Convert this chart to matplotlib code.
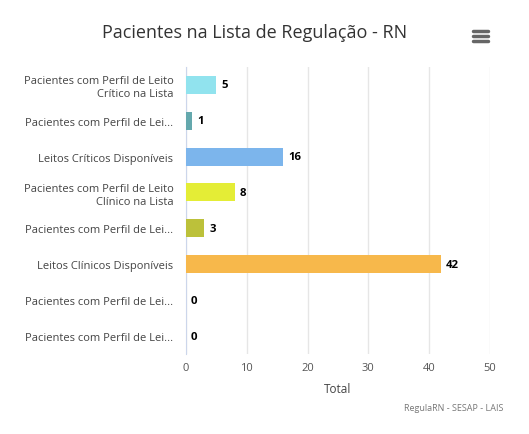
import matplotlib
matplotlib.use('Agg')
import matplotlib.pyplot as plt
from matplotlib.lines import Line2D

categories = [
    "Pacientes com Perfil de Leito\nCrítico na Lista",
    "Pacientes com Perfil de Lei...",
    "Leitos Críticos Disponíveis",
    "Pacientes com Perfil de Leito\nClínico na Lista",
    "Pacientes com Perfil de Lei...",
    "Leitos Clínicos Disponíveis",
    "Pacientes com Perfil de Lei...",
    "Pacientes com Perfil de Lei...",
]
values = [5, 1, 16, 8, 3, 42, 0, 0]
colors = ['#91e3ee', '#64a8ad', '#7cb5ec', '#e4ed36', '#bcc13a', '#f7b84b', '#cccccc', '#cccccc']
xticks = [0, 10, 20, 30, 40, 50]

plt.rcParams['font.family'] = ['Open Sans', 'DejaVu Sans']

fig = plt.figure(figsize=(5.29, 4.35), dpi=100)
fig.patch.set_facecolor('white')
ax = fig.add_axes([0.3516, 0.184, 0.5746, 0.66])

y = list(range(len(categories)))
ax.barh(y, values, height=0.5, color=colors, zorder=3)
for yi, v in zip(y, values):
    ax.text(v + 0.8, yi, str(v), va='center', ha='left', fontsize=8.2,
            fontweight='bold', color='#000000', zorder=4)

ax.set_xlim(0, 50)
ax.set_ylim(len(categories) - 0.5, -0.5)
ax.set_yticks(y)
ax.set_yticklabels(categories, fontsize=8, color='#444444')
ax.set_xticks(xticks)
ax.tick_params(axis='x', labelsize=8, colors='#555555', length=0, pad=6)
ax.tick_params(axis='y', length=0, pad=9)
ax.grid(axis='x', color='#e6e6e6', linewidth=1, zorder=0)
for s in ['top', 'right', 'bottom']:
    ax.spines[s].set_visible(False)
ax.spines['left'].set_color('#ccd6eb')
ax.set_xlabel('Total', fontsize=8.5, color='#444444', labelpad=6)

fig.text(0.482, 0.925, 'Pacientes na Lista de Regulação - RN', ha='center', va='center',
         fontsize=13, color='#333333')
fig.text(0.952, 0.062, 'RegulaRN - SESAP - LAIS', ha='right', va='center',
         fontsize=6.5, color='#777777')

for yy in [32, 37, 42]:
    fig.add_artist(Line2D([473 / 529, 488 / 529], [1 - yy / 435] * 2,
                          color='#666666', linewidth=2.5, solid_capstyle='round'))

plt.savefig('out.png', dpi=100)
